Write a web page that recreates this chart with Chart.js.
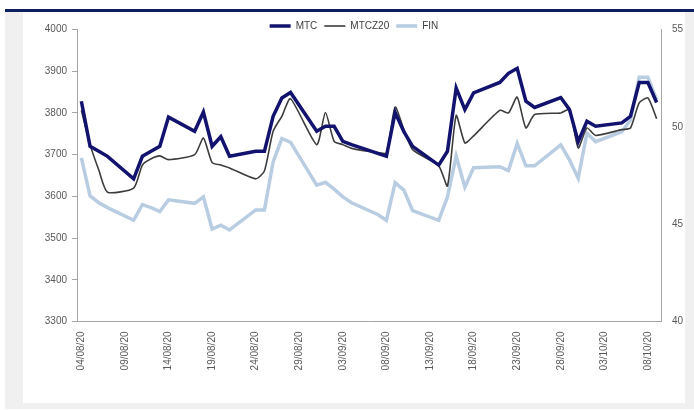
<!DOCTYPE html>
<html>
<head>
<meta charset="utf-8">
<script src="https://cdn.jsdelivr.net/npm/chart.js@4.4.0/dist/chart.umd.min.js"></script>
<style>
  body { margin: 0; background: #fff; font-family: "Liberation Sans", Arial, sans-serif; }
  #frame { position: absolute; left: 5px; top: 9px; width: 689px; height: 397px; background: #f0f0f0; border-top: 3px solid #0c1f5e; }
  #panel { position: absolute; left: 23px; top: 12px; width: 662px; height: 391px; background: #fff; }
</style>
</head>
<body>
<div id="frame"></div>
<div id="panel"><canvas id="priceChart"></canvas></div>
<script>
// trading days (dd/mm/yy)
var tradingDays = [
  '04/08/20','05/08/20','06/08/20','07/08/20',
  '10/08/20','11/08/20','12/08/20','13/08/20','14/08/20',
  '17/08/20','18/08/20','19/08/20','20/08/20','21/08/20',
  '24/08/20','25/08/20','26/08/20','27/08/20','28/08/20',
  '31/08/20','01/09/20','02/09/20','03/09/20','04/09/20',
  '07/09/20','08/09/20','09/09/20','10/09/20','11/09/20',
  '14/09/20','15/09/20','16/09/20','17/09/20','18/09/20',
  '21/09/20','22/09/20','23/09/20','24/09/20','25/09/20',
  '28/09/20','29/09/20','30/09/20','01/10/20','02/10/20',
  '05/10/20','06/10/20','07/10/20','08/10/20','09/10/20'
];
var mtc = [
  3828, 3720, 3708, 3696,
  3642, 3696, 3708, 3720, 3790,
  3756, 3802, 3720, 3743, 3696,
  3708, 3708, 3792, 3836, 3849,
  3756, 3768, 3768, 3732, 3724,
  3703, 3696, 3801, 3755, 3720,
  3675, 3708, 3860, 3808, 3848,
  3873, 3895, 3907, 3828, 3813,
  3837, 3808, 3731, 3780, 3768,
  3776, 3792, 3873, 3873, 3825
];
var mtcz20 = [
  3806, 3724, 3663, 3610,
  3620, 3675, 3690, 3697, 3688,
  3700, 3740, 3681, 3675, 3668,
  3642, 3661, 3756, 3792, 3834,
  3724, 3801, 3732, 3724, 3715,
  3705, 3704, 3814, 3760, 3712,
  3673, 3625, 3794, 3728, 3745,
  3806, 3800, 3838, 3764, 3796,
  3800, 3808, 3716, 3764, 3746,
  3760, 3764, 3824, 3836, 3786
];
var fin = [
  48.4, 46.45, 46.1, 45.85,
  45.2, 46.0, 45.85, 45.65, 46.25,
  46.07, 46.4, 44.75, 44.95, 44.7,
  45.73, 45.73, 48.2, 49.4, 49.2,
  47.0, 47.15, 46.8, 46.4, 46.1,
  45.5, 45.2, 47.13, 46.75, 45.7,
  45.2, 46.4, 48.5, 46.9, 47.9,
  47.95, 47.75, 49.15, 48.0, 48.0,
  49.07, 48.3, 47.36, 49.67, 49.24,
  49.75, 50.35, 52.55, 52.55, 51.4
];

// calendar axis: every day from first to last trading day
function pad(n) { return (n < 10 ? '0' : '') + n; }
var calendar = [];
for (var i = 0; i < 67; i++) {
  var d = new Date(2020, 7, 4 + i);
  calendar.push(pad(d.getDate()) + '/' + pad(d.getMonth() + 1) + '/' + String(d.getFullYear()).slice(2));
}

function points(values) {
  return tradingDays.map(function(day, i) { return {x: day, y: values[i]}; });
}

// legend sits in the strip just above the plot; give its box room so text isn't clipped
var legendRoom = {
  id: 'legendRoom',
  afterLayout: function(chart) {
    if (chart.legend) {
      chart.legend.bottom = chart.legend.top + 26;
      chart.legend.height = 26;
    }
  }
};

var axisColor = '#a6a6a6';
var textColor = '#595959';
var tickFont = {family: '"Liberation Sans", Arial, sans-serif', size: 10};

var ctx = document.getElementById('priceChart');
var priceChart = new Chart(ctx, {
  type: 'line',
  data: {
    labels: calendar,
    datasets: [
      {
        label: 'MTC',
        data: points(mtc),
        borderColor: '#12136e',
        backgroundColor: '#12136e',
        borderWidth: 3.5,
        pointRadius: 0,
        yAxisID: 'y'
      },
      {
        label: 'MTCZ20',
        data: points(mtcz20),
        borderColor: '#3c3c3c',
        backgroundColor: '#3c3c3c',
        borderWidth: 1.6,
        pointRadius: 0,
        tension: 0.2,
        yAxisID: 'y'
      },
      {
        label: 'FIN',
        data: points(fin),
        borderColor: '#b9cde2',
        backgroundColor: '#b9cde2',
        borderWidth: 3.5,
        pointRadius: 0,
        yAxisID: 'y1'
      }
    ]
  },
  plugins: [legendRoom],
  options: {
    responsive: true,
    maintainAspectRatio: false,
    animation: false,
    devicePixelRatio: 1,
    layout: {padding: {top: 2, left: 0, right: 0, bottom: 0}},
    plugins: {
      tooltip: {enabled: false},
      legend: {
        position: 'top',
        maxHeight: 15.5,
        labels: {
          usePointStyle: true,
          pointStyle: 'line',
          pointStyleWidth: 21,
          padding: 7,
          color: '#404040',
          font: tickFont
        }
      }
    },
    scales: {
      x: {
        type: 'category',
        offset: true,
        grid: {display: true, drawOnChartArea: false, drawTicks: false},
        border: {display: true, color: axisColor},
        ticks: {
          autoSkip: false,
          minRotation: 90,
          maxRotation: 90,
          padding: 10,
          color: textColor,
          font: tickFont,
          callback: function(value, index) {
            return index % 5 === 0 ? this.getLabelForValue(value) : null;
          }
        },
        afterFit: function(scale) { scale.height = 81.5; }
      },
      y: {
        position: 'left',
        min: 3300,
        max: 4000,
        grid: {display: true, drawOnChartArea: false, drawTicks: true, tickLength: 5, color: axisColor},
        border: {display: true, color: axisColor},
        ticks: {
          stepSize: 100, padding: 5, color: textColor, font: tickFont,
          callback: function(v) { return String(v); }
        },
        afterFit: function(scale) { scale.width = 54; }
      },
      y1: {
        position: 'right',
        min: 40,
        max: 55,
        grid: {display: true, drawOnChartArea: false, drawTicks: false},
        border: {display: true, color: axisColor},
        ticks: {
          stepSize: 5, padding: 11, color: textColor, font: tickFont,
          callback: function(v) { return String(v); }
        },
        afterFit: function(scale) { scale.width = 24; }
      }
    }
  }
});
</script>
</body>
</html>
